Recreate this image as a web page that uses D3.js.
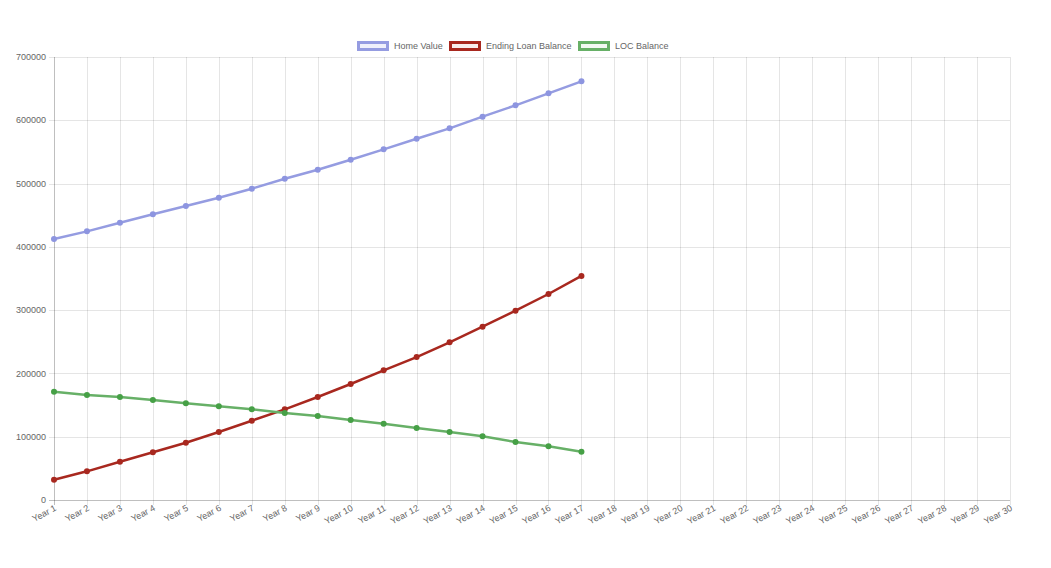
<!DOCTYPE html>
<html>
    <head>
        <meta charset="utf-8" />
        <title>Home Value vs Loan Balance</title>
        <script src="https://d3js.org/d3.v7.min.js"></script>
        <style>
            body {
                margin: 0px;
                background: white;
            }

            text {
                font-family: "Liberation Sans", Arial, sans-serif;
                fill: #666;
            }
        </style>
    </head>
    <body>
        <svg id="chart"></svg>
        <script>

        var years = d3.range(1, 31).map(function(d) { return "Year " + d; });
        var yTicks = [0, 100000, 200000, 300000, 400000, 500000, 600000, 700000];

        var homeValue = [412400, 424500, 438200, 451400, 464500, 477700, 491900, 507700, 521900,
            537700, 554100, 570900, 587300, 605700, 623600, 642600, 661600];
        var loanBalance = [32100, 45300, 60500, 75400, 90500, 107400, 125300, 143300, 162700,
            183300, 204900, 225900, 249200, 273800, 299100, 325500, 354000];
        var locBalance = [171100, 165900, 162700, 158000, 152800, 148000, 143300, 137500, 132700,
            126400, 120600, 113800, 107400, 100600, 91600, 84900, 76300];

        var seriesNames = ["Home Value", "Ending Loan Balance", "LOC Balance"];

        var width = 1051;
        var height = 568;
        var margin = {
            top: 57,
            right: 41,
            bottom: 68,
            left: 54
        };

        var svg = d3.select("#chart")
            .attr("width", width)
            .attr("height", height);

        var series = [
            { name: seriesNames[0], values: homeValue, line: "#959ce1", point: "#8d95e0", fill: "rgba(149,156,225,0.15)" },
            { name: seriesNames[1], values: loanBalance, line: "#a8281f", point: "#a8281f", fill: "rgba(168,40,31,0.08)" },
            { name: seriesNames[2], values: locBalance, line: "#67b067", point: "#46a046", fill: "rgba(103,176,103,0.08)" }
        ];

        var x = d3.scalePoint()
            .domain(years)
            .range([margin.left, width - margin.right]);

        var y = d3.scaleLinear()
            .domain([0, 700000])
            .range([height - margin.bottom, margin.top]);

        // grid
        svg.append("g")
            .selectAll("line.h")
            .data(yTicks)
            .enter().append("line")
            .attr("x1", margin.left - 5)
            .attr("x2", width - margin.right)
            .attr("y1", function(d) { return Math.round(y(d)) + 0.5; })
            .attr("y2", function(d) { return Math.round(y(d)) + 0.5; })
            .attr("stroke", function(d) { return d === 0 ? "rgba(0,0,0,0.25)" : "rgba(0,0,0,0.1)"; })
            .attr("stroke-width", 1);

        svg.append("g")
            .selectAll("line.v")
            .data(years)
            .enter().append("line")
            .attr("x1", function(d) { return Math.round(x(d)) + 0.5; })
            .attr("x2", function(d) { return Math.round(x(d)) + 0.5; })
            .attr("y1", margin.top)
            .attr("y2", height - margin.bottom + 5)
            .attr("stroke", function(d, i) { return i === 0 ? "rgba(0,0,0,0.25)" : "rgba(0,0,0,0.1)"; })
            .attr("stroke-width", 1);

        // y labels
        svg.append("g")
            .selectAll("text")
            .data(yTicks)
            .enter().append("text")
            .attr("x", margin.left - 8)
            .attr("y", function(d) { return y(d); })
            .attr("dy", "0.35em")
            .attr("text-anchor", "end")
            .style("font-size", "9px")
            .text(function(d) { return d; });

        // x labels
        svg.append("g")
            .selectAll("text")
            .data(years)
            .enter().append("text")
            .attr("text-anchor", "end")
            .style("font-size", "9px")
            .attr("transform", function(d) {
                return "translate(" + (x(d) + 3) + "," + (height - margin.bottom + 10) + ") rotate(-28)";
            })
            .text(function(d) { return d; });

        // lines
        var line = d3.line()
            .x(function(d, i) { return x(years[i]); })
            .y(function(d) { return y(d); });

        series.forEach(function(s) {
            svg.append("path")
                .datum(s.values)
                .attr("d", line)
                .attr("fill", "none")
                .attr("stroke", s.line)
                .attr("stroke-width", 2.5);

            svg.append("g")
                .selectAll("circle")
                .data(s.values)
                .enter().append("circle")
                .attr("cx", function(d, i) { return x(years[i]); })
                .attr("cy", function(d) { return y(d); })
                .attr("r", 3)
                .attr("fill", s.point);
        });

        // legend
        var legendX = [357, 449, 578];
        var legend = svg.append("g")
            .selectAll("g")
            .data(series)
            .enter().append("g")
            .attr("transform", function(d, i) { return "translate(" + legendX[i] + ",41)"; });

        legend.append("rect")
            .attr("x", 1.5)
            .attr("y", 1.5)
            .attr("width", 29)
            .attr("height", 7)
            .attr("fill", function(d) { return d.fill; })
            .attr("stroke", function(d) { return d.line; })
            .attr("stroke-width", 3);

        legend.append("text")
            .attr("x", 37)
            .attr("y", 5)
            .attr("dy", "0.35em")
            .style("font-size", "9px")
            .text(function(d) { return d.name; });

        </script>
    </body>
</html>
